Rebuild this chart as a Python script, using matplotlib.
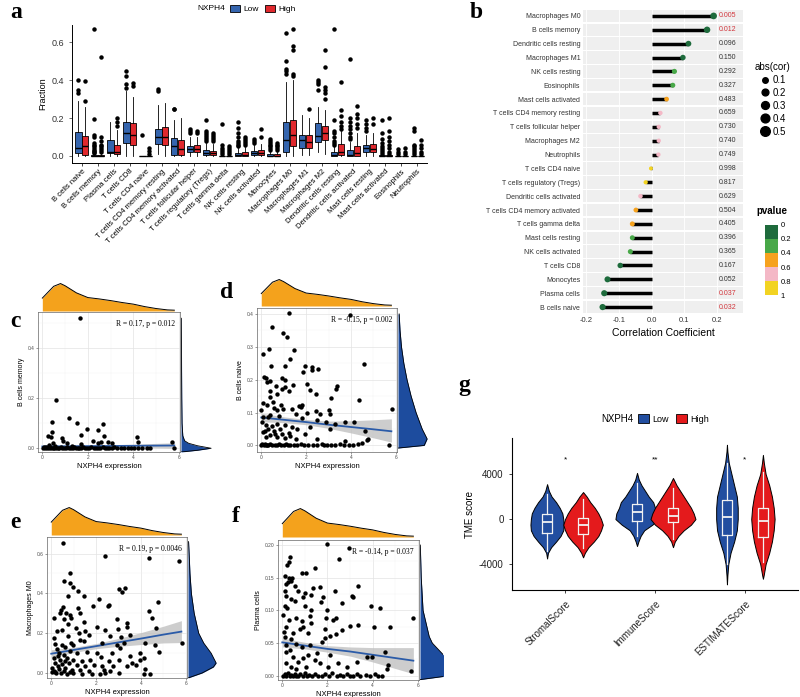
import numpy as np
import matplotlib.pyplot as plt
from matplotlib.patches import Patch
from matplotlib.lines import Line2D
from matplotlib.colors import ListedColormap, BoundaryNorm
from matplotlib.cm import ScalarMappable

plt.rcParams['font.family'] = ['Liberation Sans', 'DejaVu Sans']
plt.rcParams['axes.unicode_minus'] = False

# --- colours ---
BOX_BLUE = '#3565AE'
BOX_RED = '#E0282D'
VIO_BLUE = '#224EA0'
VIO_RED = '#E41A1C'
ORANGE = '#F4A21C'
DENS_BLUE = '#1D4C9E'
LINE_BLUE = '#2B5BA8'
NARROW = ['Liberation Sans Narrow', 'Liberation Sans', 'DejaVu Sans']

# --- panel a: CIBERSORT fractions (Low / High NXPH4) ---
cell_types = ['B cells naive', 'B cells memory', 'Plasma cells', 'T cells CD8', 'T cells CD4 naive',
              'T cells CD4 memory resting', 'T cells CD4 memory activated', 'T cells follicular helper',
              'T cells regulatory (Tregs)', 'T cells gamma delta', 'NK cells resting', 'NK cells activated',
              'Monocytes', 'Macrophages M0', 'Macrophages M1', 'Macrophages M2', 'Dendritic cells resting',
              'Dendritic cells activated', 'Mast cells resting', 'Mast cells activated', 'Eosinophils',
              'Neutrophils']
# (whislo, q1, median, q3, whishi)
low_stats = [(0, 0.014, 0.044, 0.128, 0.29), (0, 0, 0, 0.004, 0.01), (0, 0.014, 0.023, 0.084, 0.18),
             (0, 0.067, 0.123, 0.18, 0.34), (0, 0, 0, 0.001, 0.002), (0.01, 0.063, 0.098, 0.14, 0.27),
             (0, 0.005, 0.05, 0.093, 0.19), (0, 0.023, 0.037, 0.053, 0.098), (0, 0.005, 0.014, 0.032, 0.07),
             (0, 0, 0, 0.002, 0.005), (0, 0, 0.005, 0.018, 0.04), (0, 0.005, 0.014, 0.028, 0.06),
             (0, 0, 0.002, 0.008, 0.02), (0, 0.023, 0.084, 0.18, 0.39), (0.005, 0.04, 0.084, 0.11, 0.215),
             (0.02, 0.075, 0.105, 0.172, 0.26), (0, 0, 0.005, 0.023, 0.05), (0, 0, 0.005, 0.032, 0.075),
             (0, 0.023, 0.04, 0.058, 0.11), (0, 0, 0, 0.003, 0.007), (0, 0, 0, 0.001, 0.003),
             (0, 0, 0, 0.002, 0.005)]
high_stats = [(0, 0.005, 0.05, 0.105, 0.26), (0, 0, 0, 0.005, 0.012), (0, 0.01, 0.023, 0.058, 0.135),
              (0, 0.058, 0.11, 0.172, 0.31), (0, 0, 0, 0.001, 0.002), (0, 0.058, 0.102, 0.154, 0.28),
              (0, 0.005, 0.035, 0.084, 0.2), (0, 0.023, 0.037, 0.058, 0.1), (0, 0.005, 0.014, 0.028, 0.065),
              (0, 0, 0, 0.002, 0.005), (0, 0, 0.006, 0.02, 0.045), (0, 0.005, 0.018, 0.032, 0.065),
              (0, 0, 0.002, 0.008, 0.02), (0, 0.05, 0.11, 0.19, 0.4), (0.005, 0.04, 0.075, 0.11, 0.2),
              (0.01, 0.084, 0.12, 0.158, 0.24), (0, 0.005, 0.023, 0.063, 0.13), (0, 0, 0.018, 0.05, 0.12),
              (0, 0.023, 0.035, 0.063, 0.12), (0, 0, 0, 0.003, 0.007), (0, 0, 0, 0.001, 0.003),
              (0, 0, 0, 0.002, 0.005)]
low_fliers = [[0.33, 0.345, 0.40],
              [0.015, 0.02, 0.025, 0.03, 0.04, 0.05, 0.06, 0.07, 0.1, 0.11, 0.195, 0.67],
              [],
              [0.36, 0.38, 0.42, 0.45],
              [0.11],
              [0.34, 0.355],
              [0.245, 0.25],
              [0.12, 0.13, 0.14],
              [0.08, 0.09, 0.1, 0.11, 0.12, 0.13, 0.19],
              [0.01, 0.02, 0.03, 0.04, 0.06, 0.17],
              [0.05, 0.06, 0.07, 0.08, 0.1, 0.12, 0.15, 0.18],
              [0.07, 0.08, 0.09],
              [0.03, 0.04, 0.05, 0.06, 0.07, 0.08, 0.09],
              [0.43, 0.45, 0.46, 0.5, 0.65],
              [],
              [0.35, 0.38, 0.39, 0.4],
              [0.06, 0.07, 0.08, 0.1, 0.12, 0.13, 0.19, 0.67],
              [0.09, 0.1, 0.12, 0.14, 0.16, 0.18, 0.2, 0.51],
              [0.13, 0.15, 0.17, 0.19],
              [0.01, 0.02, 0.03, 0.04, 0.05, 0.07, 0.09, 0.12, 0.19],
              [0.01, 0.02, 0.035],
              [0.01, 0.02, 0.03, 0.04, 0.05, 0.06, 0.13, 0.15]]
high_fliers = [[0.29, 0.395],
               [0.02, 0.03, 0.04, 0.05, 0.06, 0.08, 0.1, 0.52],
               [0.16, 0.18, 0.2],
               [0.37, 0.385],
               [0.01, 0.025, 0.04],
               [],
               [],
               [0.12, 0.13],
               [0.08, 0.09, 0.1, 0.11, 0.12],
               [0.01, 0.02, 0.03, 0.04, 0.05],
               [0.06, 0.07, 0.08, 0.09, 0.1],
               [0.1, 0.14],
               [0.03, 0.04, 0.05, 0.06, 0.07],
               [0.42, 0.43, 0.56, 0.58, 0.67],
               [0.25],
               [0.3, 0.33, 0.35, 0.365, 0.47, 0.56],
               [0.14, 0.16, 0.18, 0.21, 0.24, 0.39],
               [0.15, 0.17, 0.2, 0.22, 0.265],
               [0.17, 0.2],
               [0.01, 0.02, 0.04, 0.06, 0.08, 0.1, 0.13, 0.2],
               [0.01, 0.02, 0.04],
               [0.01, 0.02, 0.04, 0.06, 0.085]]

# --- panel b: correlation lollipop ---
lolli_cells = ['Macrophages M0', 'B cells memory', 'Dendritic cells resting', 'Macrophages M1',
               'NK cells resting', 'Eosinophils', 'Mast cells activated', 'T cells CD4 memory resting',
               'T cells follicular helper', 'Macrophages M2', 'Neutrophils', 'T cells CD4 naive',
               'T cells regulatory (Tregs)', 'Dendritic cells activated', 'T cells CD4 memory activated',
               'T cells gamma delta', 'Mast cells resting', 'NK cells activated', 'T cells CD8',
               'Monocytes', 'Plasma cells', 'B cells naive']
lolli_cor = [0.19, 0.17, 0.113, 0.096, 0.07, 0.065, 0.046, 0.027, 0.022, 0.022, 0.021, -0.002,
             -0.018, -0.034, -0.048, -0.059, -0.059, -0.065, -0.096, -0.135, -0.145, -0.15]
lolli_p = [0.005, 0.012, 0.096, 0.150, 0.292, 0.327, 0.483, 0.659, 0.730, 0.740, 0.749, 0.998,
           0.817, 0.629, 0.504, 0.405, 0.396, 0.365, 0.167, 0.052, 0.037, 0.032]
size_breaks = [0.1, 0.2, 0.3, 0.4, 0.5]
p_breaks = [0, 0.2, 0.4, 0.6, 0.8, 1]
p_colors = ['#1E6B3C', '#48A848', '#F6A21E', '#F4B8C6', '#F2D322']

# --- panels c-f: scatter with marginal densities ---
expr_grid = [0, 0.5, 0.8, 1.0, 1.5, 2.0, 2.5, 3.0, 3.5, 4.0, 4.5, 5.0, 5.5, 5.8]
expr_dens = [0.47, 0.9, 1.0, 0.92, 0.66, 0.49, 0.44, 0.38, 0.31, 0.25, 0.16, 0.09, 0.04, 0.03]
fit_grid = [0, 1, 2, 3, 4, 5, 5.8]

c_pts = [(1.65, 0.52), (0.6, 0.193), (1.19, 0.123), (1.51, 0.103), (0.41, 0.107), (2.65, 0.099),
         (2.43, 0.073), (1.95, 0.076), (0.41, 0.067), (0.23, 0.051), (0.38, 0.044), (1.7, 0.053),
         (2.71, 0.049), (4.17, 0.044), (0.85, 0.04), (0.92, 0.031), (0.48, 0.023), (1.07, 0.02),
         (2.21, 0.031), (2.6, 0.027), (2.9, 0.027), (4.19, 0.027), (5.68, 0.027), (3.05, 0.02),
         (1.7, 0.017), (2.46, 0.023), (5.78, 0.0),
         (0.02, 0.0), (0.08, 0.004), (0.12, 0.0), (0.18, 0.007), (0.22, 0.002), (0.28, 0.0),
         (0.32, 0.005), (0.38, 0.0), (0.45, 0.003), (0.5, 0.0), (0.55, 0.008), (0.62, 0.0),
         (0.68, 0.002), (0.75, 0.0), (0.82, 0.005), (0.88, 0.0), (0.95, 0.003), (1.02, 0.0),
         (1.1, 0.006), (1.18, 0.0), (1.25, 0.002), (1.33, 0.0), (1.4, 0.004), (1.48, 0.0),
         (1.55, 0.0), (1.63, 0.003), (1.72, 0.0), (1.8, 0.006), (1.88, 0.0), (1.97, 0.002),
         (2.05, 0.0), (2.15, 0.004), (2.25, 0.0), (2.35, 0.0), (2.45, 0.003), (2.55, 0.0),
         (2.65, 0.005), (2.75, 0.0), (2.85, 0.002), (2.95, 0.0), (3.05, 0.0), (3.15, 0.004),
         (3.3, 0.0), (3.45, 0.002), (3.6, 0.0), (3.75, 0.0), (3.9, 0.003), (4.05, 0.0),
         (4.2, 0.0), (4.4, 0.002), (4.6, 0.0), (4.75, 0.0), (0.3, 0.012), (1.3, 0.01)]
c_fit = [0.007, 0.0077, 0.0084, 0.0091, 0.0098, 0.0105, 0.011]
c_lo = [-0.001, 0.0017, 0.0034, 0.0041, 0.0038, 0.0015, 0.0]
c_hi = [0.015, 0.0137, 0.0134, 0.0141, 0.0158, 0.0195, 0.022]
c_rd_y = [-0.015, -0.008, 0.0, 0.01, 0.02, 0.03, 0.05, 0.1, 0.2, 0.3, 0.4, 0.52]
c_rd_w = [0.0, 0.55, 1.0, 0.55, 0.25, 0.12, 0.06, 0.035, 0.025, 0.02, 0.015, 0.01]

d_pts = [(1.23, 0.403), (3.94, 0.398), (0.49, 0.359), (0.98, 0.342), (1.16, 0.329), (0.34, 0.293),
         (0.09, 0.278), (1.48, 0.289), (1.27, 0.263), (4.56, 0.248), (0.44, 0.243), (1.05, 0.243),
         (1.93, 0.243), (2.27, 0.238), (2.53, 0.232), (2.27, 0.23), (1.85, 0.222), (0.12, 0.207),
         (0.19, 0.206), (0.93, 0.204), (1.08, 0.199), (0.41, 0.196), (0.24, 0.194), (1.42, 0.184),
         (2.04, 0.187), (3.38, 0.181), (3.35, 0.173), (0.64, 0.181), (1.04, 0.179), (0.93, 0.171),
         (2.19, 0.168), (1.23, 0.165), (0.39, 0.165), (0.71, 0.155), (2.46, 0.155), (0.41, 0.148),
         (3.1, 0.145), (4.34, 0.138), (0.53, 0.133), (0.09, 0.128), (0.86, 0.124), (1.82, 0.124),
         (0.27, 0.124), (0.56, 0.115), (1.67, 0.119), (1.79, 0.117), (0.99, 0.112), (5.82, 0.112),
         (0.0, 0.107), (0.71, 0.107), (1.38, 0.11), (3.04, 0.107), (2.46, 0.104), (2.04, 0.099),
         (1.57, 0.097), (2.61, 0.095), (3.08, 0.095), (0.41, 0.092), (0.79, 0.089), (0.09, 0.087),
         (0.31, 0.087), (1.82, 0.082), (2.49, 0.077), (2.9, 0.071), (3.75, 0.071), (4.12, 0.071),
         (3.3, 0.066), (4.64, 0.043), (0.04, 0.071), (0.19, 0.063), (0.49, 0.059), (0.71, 0.066),
         (1.08, 0.061), (1.38, 0.056), (1.6, 0.051), (2.19, 0.056), (3.08, 0.051), (0.31, 0.049),
         (0.09, 0.041), (0.56, 0.043), (0.93, 0.036), (1.23, 0.039), (1.97, 0.036), (0.41, 0.031),
         (0.19, 0.026), (0.71, 0.026), (1.08, 0.022), (1.53, 0.02), (2.49, 0.02), (3.75, 0.012),
         (4.71, 0.015), (4.74, 0.02), (0.15, 0.045), (0.6, 0.035), (0.85, 0.05), (1.3, 0.03),
         (0.0, 0.0), (0.05, 0.003), (0.1, 0.0), (0.15, 0.005), (0.2, 0.0), (0.25, 0.002),
         (0.3, 0.0), (0.4, 0.004), (0.5, 0.0), (0.6, 0.001), (0.7, 0.0), (0.8, 0.003),
         (0.9, 0.0), (1.0, 0.0), (1.1, 0.004), (1.2, 0.0), (1.3, 0.002), (1.45, 0.0),
         (1.6, 0.0), (1.75, 0.003), (1.9, 0.0), (2.1, 0.0), (2.3, 0.002), (2.5, 0.0),
         (2.7, 0.004), (2.8, 0.0), (2.95, 0.0), (3.1, 0.002), (3.3, 0.0), (3.5, 0.003),
         (3.7, 0.0), (3.9, 0.0), (4.1, 0.002), (4.3, 0.005), (4.5, 0.008), (5.7, 0.0)]
d_fit = [0.085, 0.078, 0.071, 0.063, 0.056, 0.049, 0.043]
d_lo = [0.072, 0.069, 0.063, 0.052, 0.038, 0.023, 0.010]
d_hi = [0.098, 0.087, 0.079, 0.074, 0.075, 0.078, 0.081]
d_rd_y = [-0.008, 0.0, 0.02, 0.05, 0.1, 0.15, 0.2, 0.25, 0.3, 0.35, 0.4]
d_rd_w = [0.0, 0.9, 1.0, 0.83, 0.62, 0.45, 0.31, 0.2, 0.12, 0.07, 0.04]

e_pts = [(0.52, 0.653), (2.38, 0.587), (4.37, 0.58), (5.71, 0.563), (0.82, 0.503), (0.55, 0.462),
         (0.85, 0.45), (0.97, 0.43), (1.17, 0.413), (3.0, 0.42), (3.15, 0.408), (3.27, 0.425),
         (0.74, 0.388), (1.44, 0.388), (2.11, 0.372), (2.59, 0.342), (2.51, 0.337), (4.74, 0.358),
         (1.86, 0.337), (0.52, 0.33), (1.19, 0.325), (0.45, 0.317), (0.67, 0.3), (0.85, 0.292),
         (0.88, 0.278), (4.34, 0.312), (0.37, 0.303), (0.1, 0.278), (0.55, 0.27), (1.29, 0.3),
         (2.93, 0.272), (3.37, 0.25), (3.37, 0.233), (4.49, 0.275), (1.44, 0.258), (0.73, 0.245),
         (1.11, 0.228), (2.04, 0.233), (4.68, 0.225), (2.99, 0.22), (0.25, 0.212), (0.48, 0.217),
         (1.52, 0.212), (2.41, 0.217), (1.22, 0.2), (0.1, 0.175), (0.74, 0.187), (1.66, 0.192),
         (2.63, 0.187), (3.52, 0.192), (3.1, 0.183), (1.29, 0.167), (1.44, 0.162), (0.88, 0.15),
         (0.99, 0.142), (2.26, 0.15), (4.19, 0.153), (0.48, 0.142), (0.18, 0.145), (2.93, 0.142),
         (3.25, 0.15), (4.64, 0.142), (4.78, 0.108), (0.25, 0.122), (0.62, 0.13), (0.82, 0.113),
         (0.33, 0.1), (0.55, 0.092), (1.14, 0.1), (1.59, 0.108), (2.04, 0.1), (2.7, 0.103),
         (3.05, 0.125), (3.94, 0.1), (2.21, 0.08), (3.52, 0.083), (4.12, 0.075), (3.97, 0.063),
         (0.1, 0.075), (0.4, 0.067), (0.7, 0.075), (0.99, 0.067), (1.37, 0.058), (1.74, 0.067),
         (2.56, 0.058), (3.0, 0.067), (3.6, 0.05), (0.18, 0.05), (0.48, 0.045), (0.77, 0.05),
         (1.14, 0.042), (1.52, 0.033), (1.89, 0.042), (2.26, 0.033), (2.75, 0.033), (3.37, 0.037),
         (3.79, 0.042), (4.19, 0.02), (0.03, 0.025), (0.33, 0.02), (0.62, 0.025), (0.92, 0.017),
         (1.29, 0.017), (1.66, 0.008), (2.33, 0.017), (2.63, 0.008), (3.0, 0.0), (4.12, -0.003),
         (4.38, -0.003), (0.03, 0.003), (0.22, 0.0), (0.43, 0.0), (0.7, -0.003), (0.99, 0.0),
         (1.37, -0.003), (1.81, -0.003), (2.18, -0.003), (2.41, 0.0), (5.82, 0.15), (0.12, 0.01),
         (0.3, 0.035), (0.6, 0.06), (0.28, 0.085), (0.15, 0.005), (0.55, 0.01), (0.85, 0.004)]
e_fit = [0.097, 0.116, 0.135, 0.154, 0.173, 0.193, 0.208]
e_lo = [0.077, 0.103, 0.122, 0.134, 0.143, 0.151, 0.153]
e_hi = [0.117, 0.129, 0.148, 0.174, 0.203, 0.235, 0.263]
e_rd_y = [-0.025, 0.0, 0.03, 0.05, 0.1, 0.15, 0.2, 0.3, 0.4, 0.5, 0.6, 0.66]
e_rd_w = [0.0, 0.5, 0.9, 1.0, 0.82, 0.56, 0.38, 0.22, 0.12, 0.07, 0.04, 0.02]

f_pts = [(1.96, 0.2015), (2.93, 0.196), (2.53, 0.178), (0.36, 0.182), (0.3, 0.174), (0.22, 0.169),
         (1.44, 0.165), (1.07, 0.157), (0.85, 0.157), (0.1, 0.152), (0.3, 0.15), (0.45, 0.149),
         (0.4, 0.145), (0.25, 0.143), (0.15, 0.14), (3.37, 0.137), (0.55, 0.137), (1.37, 0.134),
         (1.66, 0.135), (2.33, 0.13), (0.7, 0.129), (0.1, 0.129), (3.08, 0.122), (3.12, 0.12),
         (1.0, 0.126), (1.29, 0.123), (0.18, 0.122), (0.4, 0.118), (0.92, 0.121), (1.81, 0.121),
         (0.55, 0.115), (1.71, 0.113), (2.63, 0.111), (0.1, 0.106), (0.21, 0.103), (1.0, 0.106),
         (3.92, 0.106), (4.34, 0.104), (1.26, 0.1), (1.96, 0.1), (5.8, 0.088), (0.03, 0.093),
         (0.62, 0.089), (1.22, 0.091), (1.92, 0.089), (2.38, 0.089), (0.3, 0.086), (0.85, 0.083),
         (2.26, 0.085), (3.0, 0.076), (3.37, 0.078), (1.26, 0.08), (0.18, 0.075), (0.92, 0.075),
         (4.07, 0.075), (0.77, 0.071), (1.89, 0.072), (4.78, 0.074), (0.07, 0.067), (0.48, 0.065),
         (1.14, 0.065), (2.63, 0.07), (0.1, 0.059), (1.89, 0.057), (2.11, 0.06), (2.38, 0.064),
         (0.4, 0.056), (0.62, 0.049), (1.74, 0.052), (1.22, 0.047), (0.18, 0.047), (0.85, 0.044),
         (0.36, 0.039), (0.18, 0.036), (1.52, 0.035), (2.11, 0.032), (3.74, 0.028), (3.96, 0.028),
         (4.56, 0.036), (0.48, 0.029), (0.92, 0.027), (1.14, 0.032), (1.44, 0.024), (0.7, 0.021),
         (0.18, 0.019), (1.66, 0.019), (2.48, 0.019), (3.3, 0.021), (4.67, 0.016), (0.4, 0.014),
         (1.07, 0.013), (2.04, 0.014), (2.85, 0.014), (4.64, 0.011), (5.68, 0.007), (0.6, 0.01),
         (0.02, 0.0), (0.1, 0.002), (0.18, 0.0), (0.25, 0.004), (0.32, 0.0), (0.4, 0.001),
         (0.48, 0.0), (0.55, 0.003), (0.62, 0.0), (0.7, 0.0), (0.8, 0.002), (0.9, 0.0),
         (1.0, 0.004), (1.1, 0.0), (1.2, 0.001), (1.3, 0.0), (1.45, 0.003), (1.6, 0.0),
         (1.75, 0.0), (1.9, 0.002), (2.05, 0.0), (2.2, 0.004), (2.4, 0.0), (2.55, 0.001),
         (2.7, 0.0), (2.85, 0.003), (3.0, 0.0), (3.15, 0.0), (3.3, 0.002), (3.45, 0.0),
         (3.7, 0.001), (3.9, 0.0), (4.1, 0.002), (4.25, 0.0), (4.4, 0.0)]
f_fit = [0.051, 0.046, 0.041, 0.037, 0.032, 0.027, 0.023]
f_lo = [0.044, 0.041, 0.036, 0.030, 0.021, 0.011, 0.003]
f_hi = [0.058, 0.051, 0.046, 0.044, 0.043, 0.043, 0.043]
f_rd_y = [-0.006, 0.0, 0.01, 0.02, 0.03, 0.04, 0.05, 0.06, 0.08, 0.1, 0.15, 0.2]
f_rd_w = [0.0, 0.95, 1.0, 0.95, 0.8, 0.6, 0.4, 0.3, 0.2, 0.1, 0.04, 0.01]

# --- panel g: ESTIMATE scores ---
tme_groups = ['StromalScore', 'ImmuneScore', 'ESTIMATEScore']
tme_stars = ['*', '**', '*']
low_vio_y = [[3100, 2500, 2000, 1500, 1000, 500, 0, -500, -1000, -1500, -2000, -2500, -3000, -3500],
             [4100, 3500, 3000, 2500, 2000, 1500, 1000, 500, 0, -500, -1000, -1500, -2000, -2400],
             [6600, 6000, 5000, 4000, 3000, 2000, 1000, 0, -1000, -2000, -3000, -4000, -5000, -5800]]
low_vio_w = [[0.0, 0.02, 0.05, 0.1, 0.14, 0.17, 0.18, 0.185, 0.18, 0.15, 0.1, 0.045, 0.01, 0.0],
             [0.0, 0.02, 0.05, 0.09, 0.13, 0.18, 0.2, 0.23, 0.24, 0.17, 0.08, 0.04, 0.015, 0.0],
             [0.0, 0.005, 0.02, 0.05, 0.08, 0.11, 0.12, 0.12, 0.11, 0.08, 0.04, 0.015, 0.005, 0.0]]
high_vio_y = [[2400, 2000, 1500, 1000, 500, 0, -500, -1000, -1500, -2000, -2500, -3000, -3400],
              [3650, 3000, 2500, 2000, 1500, 1000, 500, 0, -500, -1000, -1500, -2000, -2500],
              [5700, 5000, 4000, 3000, 2000, 1000, 0, -1000, -2000, -3000, -4000, -5000, -5300]]
high_vio_w = [[0.0, 0.04, 0.08, 0.13, 0.17, 0.2, 0.22, 0.2, 0.17, 0.12, 0.06, 0.02, 0.0],
              [0.0, 0.04, 0.08, 0.12, 0.16, 0.2, 0.23, 0.25, 0.2, 0.12, 0.06, 0.02, 0.0],
              [0.0, 0.01, 0.03, 0.07, 0.1, 0.12, 0.13, 0.12, 0.1, 0.07, 0.03, 0.008, 0.0]]
# (whislo, q1, median, q3, whishi)
low_tme_box = [(-2800, -1244, -296, 474, 2200), (-1500, -148, 593, 1363, 3200), (-4000, -1393, 178, 1659, 5000)]
high_tme_box = [(-2600, -1333, -504, 89, 1800), (-1800, -296, 296, 978, 2800), (-3800, -1630, -207, 978, 4200)]

# --- figure ---
W, H = 800, 697
fig = plt.figure(figsize=(8, 6.97), dpi=100)


def px_axes(l, t, r, b):
    return fig.add_axes([l / W, 1 - b / H, (r - l) / W, (b - t) / H])


def panel_label(x, y, s):
    fig.text(x / W, 1 - y / H, s, family='Liberation Serif', fontweight='bold', fontsize=17,
             ha='left', va='center')


# --- panel a ---
ax_a = px_axes(72, 25, 427, 163)
pos = np.arange(1, len(cell_types) + 1)
for stats, fl, off, col in [(low_stats, low_fliers, -0.21, BOX_BLUE), (high_stats, high_fliers, 0.21, BOX_RED)]:
    bstats = [dict(whislo=s[0], q1=s[1], med=s[2], q3=s[3], whishi=s[4], fliers=f) for s, f in zip(stats, fl)]
    ax_a.bxp(bstats, positions=pos + off, widths=0.4, patch_artist=True, showcaps=False,
             boxprops=dict(facecolor=col, edgecolor='black', linewidth=0.6),
             medianprops=dict(color='black', linewidth=1.0),
             whiskerprops=dict(color='black', linewidth=0.6),
             flierprops=dict(marker='o', markersize=2.2, markerfacecolor='black', markeredgecolor='black'),
             manage_ticks=False)
ax_a.set_xlim(0.39, 22.6)
ax_a.set_ylim(-0.037, 0.69)
ax_a.set_yticks([0, 0.2, 0.4, 0.6])
ax_a.set_yticklabels(['0.0', '0.2', '0.4', '0.6'])
ax_a.set_xticks(pos)
ax_a.set_xticklabels(cell_types, rotation=45, ha='right', rotation_mode='anchor', fontsize=5.5)
ax_a.tick_params(axis='y', labelsize=6.5, colors='#333333', length=2, width=0.5)
ax_a.tick_params(axis='x', length=2, width=0.5, pad=1.5)
ax_a.set_ylabel('Fraction', fontsize=6.5, labelpad=3)
for s in ['top', 'right']:
    ax_a.spines[s].set_visible(False)
for s in ['left', 'bottom']:
    ax_a.spines[s].set_linewidth(0.7)
fig.text(211 / W, 1 - 9 / H, 'NXPH4', fontsize=6, ha='center', va='center')
fig.legend(handles=[Patch(facecolor=BOX_BLUE, edgecolor='black', lw=0.6),
                    Patch(facecolor=BOX_RED, edgecolor='black', lw=0.6)],
           labels=['Low', 'High'], loc='center left', bbox_to_anchor=(230 / W, 1 - 9 / H),
           ncol=2, frameon=False, fontsize=6, handlelength=1.2, handleheight=0.9,
           handletextpad=0.4, columnspacing=0.8, borderaxespad=0, borderpad=0)
panel_label(10, 13, 'a')

# --- panel b ---
ax_b = px_axes(583, 9, 743, 314)
rows = np.arange(len(lolli_cells))
ax_b.barh(rows, 0.49, left=-0.21, height=0.9, color='#EFEFEF', zorder=0)
for xv in [-0.2, -0.1, 0.0, 0.1, 0.2]:
    ax_b.axvline(xv, color='white', lw=0.6, zorder=0.5)
cmap = ListedColormap(p_colors)
norm = BoundaryNorm(p_breaks, cmap.N)


def dot_size(v):
    return 8 + 80 * abs(v)


ax_b.hlines(rows, 0, lolli_cor, color='black', lw=2.5, zorder=2)
ax_b.scatter(lolli_cor, rows, s=[dot_size(v) for v in lolli_cor], c=cmap(norm(lolli_p)), zorder=3, lw=0)
for r, p in zip(rows, lolli_p):
    ax_b.text(0.234, r, f'{p:.3f}', ha='center', va='center', fontsize=5, family=NARROW,
              color='#D2363C' if p < 0.05 else '#333333')
ax_b.set_xlim(-0.21, 0.28)
ax_b.set_ylim(21.5, -0.5)
ax_b.set_yticks(rows)
ax_b.set_yticklabels(lolli_cells, fontsize=5, family=NARROW)
ax_b.set_xticks([-0.2, -0.1, 0.0, 0.1, 0.2])
ax_b.set_xticklabels(['-0.2', '-0.1', '0.0', '0.1', '0.2'], fontsize=5.5, family=NARROW)
ax_b.tick_params(length=0, pad=2, colors='#333333')
ax_b.set_xlabel('Correlation Coefficient', fontsize=7.5, family=NARROW, labelpad=3)
for s in ax_b.spines.values():
    s.set_visible(False)

fig.legend(handles=[Line2D([], [], ls='', marker='o', color='black',
                           markersize=np.sqrt(dot_size(v))) for v in size_breaks],
           labels=[str(v) for v in size_breaks], title='abs(cor)', loc='upper left',
           bbox_to_anchor=(755 / W, 1 - 62 / H), frameon=False, fontsize=7, title_fontsize=7,
           handletextpad=0.2, labelspacing=0.3, borderaxespad=0, borderpad=0, handlelength=1.2)

cax = px_axes(765, 225, 778, 295)
cb = fig.colorbar(ScalarMappable(norm=norm, cmap=cmap), cax=cax, ticks=p_breaks)
cax.invert_yaxis()
cb.outline.set_visible(False)
cax.set_yticklabels(['0', '0.2', '0.4', '0.6', '0.8', '1'])
cax.tick_params(length=0, labelsize=5.5, pad=2)
fig.text(772 / W, 1 - 211 / H, 'pvalue', fontsize=7, fontweight='bold', ha='center', va='center')
panel_label(470, 13, 'b')


# --- panels c-f ---
def scatter_panel(box, top_box, right_box, pts, fit, lo, hi, rd_y, rd_w, rd_max,
                  ylim, yticks, ylabels, yminor, ylabel, note):
    ax = px_axes(*box)
    xs = [p[0] for p in pts]
    ys = [p[1] for p in pts]
    ax.fill_between(fit_grid, lo, hi, color='#BDBDBD', alpha=0.75, lw=0, zorder=2)
    ax.plot(fit_grid, fit, color=LINE_BLUE, lw=1.3, zorder=3)
    ax.scatter(xs, ys, s=10, color='black', lw=0, zorder=4)
    ax.set_xlim(-0.19, 6.05)
    ax.set_ylim(ylim)
    ax.set_xticks([0, 2, 4, 6])
    ax.set_xticks([1, 3, 5], minor=True)
    ax.set_yticks(yticks)
    ax.set_yticklabels(ylabels)
    ax.set_yticks(yminor, minor=True)
    ax.grid(which='major', color='#E3E3E3', lw=0.5)
    ax.grid(which='minor', color='#F1F1F1', lw=0.3)
    ax.set_axisbelow(True)
    ax.tick_params(labelsize=3.5, length=1.5, width=0.4, colors='#4D4D4D', pad=1)
    ax.tick_params(which='minor', length=0)
    for s in ax.spines.values():
        s.set_color('#666666')
        s.set_linewidth(0.5)
    ax.set_xlabel('NXPH4 expression', fontsize=5.5, labelpad=1.5)
    ax.set_ylabel(ylabel, fontsize=5, labelpad=2)
    ax.text(0.965, 0.915, note, transform=ax.transAxes, ha='right', va='center',
            family='Liberation Serif', fontsize=5.5)
    at = px_axes(*top_box)
    at.fill_between(expr_grid, 0, expr_dens, color=ORANGE, lw=0)
    at.plot(expr_grid, expr_dens, color='black', lw=0.7)
    at.set_xlim(-0.19, 6.05)
    at.set_ylim(0, 1.02)
    at.axis('off')
    ar = px_axes(*right_box)
    ar.fill_betweenx(rd_y, 0, rd_w, color=DENS_BLUE, lw=0)
    ar.plot(rd_w, rd_y, color='black', lw=0.6)
    ar.set_ylim(ylim)
    ar.set_xlim(0, rd_max)
    ar.axis('off')
    return ax


scatter_panel((38, 312, 180, 452), (38, 283, 180, 311), (181, 312, 212, 452), c_pts,
              c_fit, c_lo, c_hi, c_rd_y, c_rd_w, 1.03, (-0.015, 0.545), [0, 0.2, 0.4],
              ['0.0', '0.2', '0.4'], [0.1, 0.3, 0.5], 'B cells memory', 'R = 0.17, p = 0.012')
scatter_panel((257, 308, 397, 452), (257, 279, 397, 306), (398, 308, 428, 452), d_pts,
              d_fit, d_lo, d_hi, d_rd_y, d_rd_w, 1.03, (-0.02, 0.418), [0, 0.1, 0.2, 0.3, 0.4],
              ['0.0', '0.1', '0.2', '0.3', '0.4'], [0.05, 0.15, 0.25, 0.35], 'B cells naive',
              'R = -0.15, p = 0.002')
scatter_panel((47, 537, 187, 678), (47, 507, 187, 535), (188, 537, 217, 678), e_pts,
              e_fit, e_lo, e_hi, e_rd_y, e_rd_w, 1.03, (-0.025, 0.683), [0, 0.2, 0.4, 0.6],
              ['0.0', '0.2', '0.4', '0.6'], [0.1, 0.3, 0.5], 'Macrophages M0',
              'R = 0.19, p = 0.0046')
scatter_panel((278, 540, 419, 680), (278, 508, 419, 537), (420, 540, 443, 680), f_pts,
              f_fit, f_lo, f_hi, f_rd_y, f_rd_w, 0.75, (-0.0066, 0.2077), [0, 0.05, 0.1, 0.15, 0.2],
              ['0.00', '0.05', '0.10', '0.15', '0.20'], [0.025, 0.075, 0.125, 0.175], 'Plasma cells',
              'R = -0.14, p = 0.037')
panel_label(10, 322, 'c')
panel_label(220, 292, 'd')
panel_label(10, 522, 'e')
panel_label(232, 516, 'f')

# --- panel g ---
ax_g = px_axes(512, 438, 798, 590)
gpos = np.arange(1, len(tme_groups) + 1)
for vy_list, vw_list, boxes, off, col in [(low_vio_y, low_vio_w, low_tme_box, -0.2, VIO_BLUE),
                                          (high_vio_y, high_vio_w, high_tme_box, 0.2, VIO_RED)]:
    for i, (vy, vw) in enumerate(zip(vy_list, vw_list)):
        c = gpos[i] + off
        ax_g.fill_betweenx(vy, [c - w for w in vw], [c + w for w in vw], facecolor=col,
                           edgecolor='black', lw=0.7, zorder=2)
    bstats = [dict(whislo=b[0], q1=b[1], med=b[2], q3=b[3], whishi=b[4], fliers=[]) for b in boxes]
    ax_g.bxp(bstats, positions=gpos + off, widths=0.11, showcaps=False, showfliers=False,
             boxprops=dict(color='#F2F2F2', linewidth=0.9),
             medianprops=dict(color='#F2F2F2', linewidth=1.3),
             whiskerprops=dict(color='#F2F2F2', linewidth=0.9), manage_ticks=False, zorder=3)
for i, st in enumerate(tme_stars):
    ax_g.text(gpos[i], 5300, st, ha='center', va='center', fontsize=6)
ax_g.set_xlim(0.41, 3.59)
ax_g.set_ylim(-6300, 7200)
ax_g.set_yticks([-4000, 0, 4000])
ax_g.set_xticks(gpos)
ax_g.set_xticklabels(tme_groups, rotation=45, ha='right', rotation_mode='anchor', fontsize=7)
ax_g.tick_params(labelsize=7, length=2.5, width=0.6, colors='#222222')
ax_g.set_ylabel('TME score', fontsize=7, labelpad=3)
for s in ['top', 'right']:
    ax_g.spines[s].set_visible(False)
for s in ['left', 'bottom']:
    ax_g.spines[s].set_linewidth(0.8)
fig.text(617 / W, 1 - 419 / H, 'NXPH4', fontsize=7, ha='center', va='center')
fig.legend(handles=[Patch(facecolor=VIO_BLUE, edgecolor='black', lw=0.6),
                    Patch(facecolor=VIO_RED, edgecolor='black', lw=0.6)],
           labels=['Low', 'High'], loc='center left', bbox_to_anchor=(638 / W, 1 - 419 / H),
           ncol=2, frameon=False, fontsize=6.5, handlelength=1.2, handleheight=1.0,
           handletextpad=0.4, columnspacing=0.8, borderaxespad=0, borderpad=0)
panel_label(458, 385, 'g')

fig.savefig('out.png', dpi=100)
